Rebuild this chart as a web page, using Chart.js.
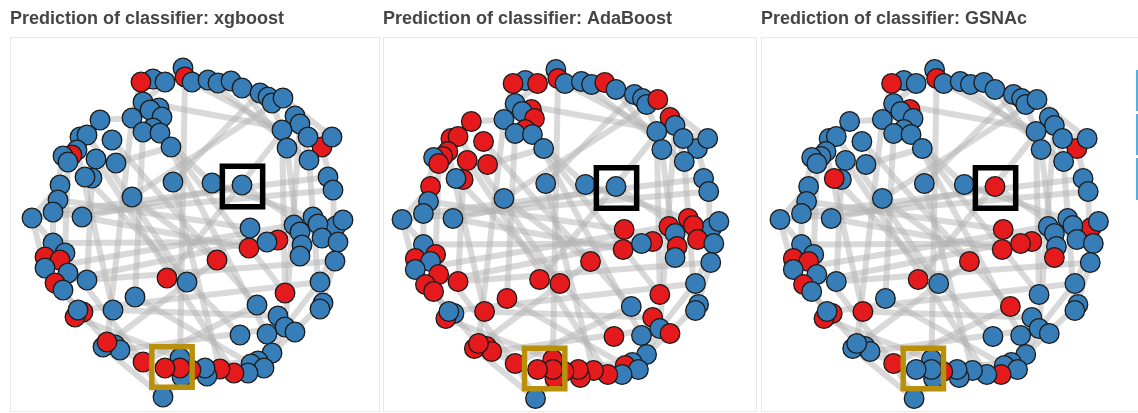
<!DOCTYPE html>
<html>
<head>
<meta charset="utf-8">
<script src="https://cdn.jsdelivr.net/npm/chart.js@4.4.1/dist/chart.umd.min.js"></script>
<style>
  html, body { margin: 0; padding: 0; background: #ffffff; }
  body { width: 1138px; height: 413px; position: relative; overflow: hidden; }
  .frame { position: absolute; top: 37px; height: 375px; border: 1px solid #e8e8e8; box-sizing: border-box; }
  canvas { position: absolute; top: 0; }
  .tab { position: absolute; left: 1136px; width: 2px; background: #5aaee0; }
</style>
</head>
<body>
<div class="frame" style="left:10px;width:370px"></div>
<div class="frame" style="left:383px;width:374px"></div>
<div class="frame" style="left:761px;width:380px"></div>
<div class="tab" style="top:70px;height:41px"></div>
<div class="tab" style="top:114px;height:41px"></div>
<div class="tab" style="top:158px;height:42px"></div>
<canvas id="c0"></canvas>
<canvas id="c1"></canvas>
<canvas id="c2"></canvas>
<script>
// Panel titles
const panelTitles = [
  'Prediction of classifier: xgboost',
  'Prediction of classifier: AdaBoost',
  'Prediction of classifier: GSNAc'
];

// Shared graph layout (node coordinates)
const nodeX = [153,141,165,183,185,192,208,218,231,242, 260,268,272,283,143,159,150,132,162,153,
               143,160,171,295,300,282,322,332,308,287, 309,328,333,100,80,87,112,77,72,63,
               68,96,116,92,85,60,58,53,32,82, 173,132,212,242,250,249,278,267,217,167,
               187,285,257,135,113,240,336,294,313,318, 300,343,322,338,302,300,335,320,323,320,
               278,285,295,267,272,258,251,264,248,234, 220,207,205,191,180,182,180,165,143,163,
               115,120,103,107,83,75,78,53,45,65, 60,45,68,87,55,63];
const nodeY = [79,82,82,68,77,82,80,83,81,88, 93,97,103,98,102,108,110,118,117,128,
               132,133,147,116,124,130,147,137,137,148, 160,177,190,120,137,135,140,150,155,156,
               162,159,163,178,177,185,200,212,218,217, 182,197,183,185,228,248,240,242,260,278,
               282,293,305,297,310,335,226,225,217,224, 232,220,238,242,245,256,261,282,303,309,
               316,327,332,334,353,361,364,368,373,373, 369,376,368,370,358,377,368,368,362,397,
               345,350,347,342,312,317,310,243,257,253, 260,268,273,280,283,290];

// Predicted class per node (0 = blue class, 1 = red class)
const predXgboost = [0,1,0,0,1,0,0,0,0,0, 0,0,0,0,0,0,0,0,0,0, 0,0,0,0,0,0,1,0,0,0, 0,0,0,0,0,0,0,0,1,0,
                     0,0,0,0,0,0,0,0,0,0, 0,0,0,0,0,1,1,0,1,1, 0,1,0,0,0,0,0,0,0,0, 0,0,0,0,0,0,0,0,0,0,
                     0,0,0,0,0,0,0,0,0,1, 1,0,0,1,0,0,1,1,1,0, 0,0,0,1,1,1,0,0,1,0, 1,0,0,0,1,0];
const predAdaBoost = [0,1,1,0,1,0,0,0,1,0, 0,0,0,1,0,1,0,0,1,1, 0,0,0,1,0,0,0,0,0,0, 0,0,0,1,1,1,1,1,1,0,
                      1,1,1,1,0,1,0,0,0,0, 0,0,0,0,1,1,1,0,1,1, 1,1,0,1,1,1,0,1,1,1, 0,0,1,0,1,0,0,0,0,0,
                      1,0,1,0,0,0,1,0,0,1, 1,1,1,1,1,1,1,1,1,0, 1,1,1,1,0,1,0,0,1,1, 0,0,1,1,1,1];
const predGSNAc = [0,1,0,0,1,0,0,0,0,0, 0,0,0,0,0,1,0,0,0,0, 0,0,0,0,0,0,1,0,0,0, 0,0,0,0,0,0,0,0,0,0,
                   0,0,0,0,1,0,0,0,0,0, 0,0,0,1,1,1,1,1,1,1, 0,0,1,0,1,0,1,0,0,0, 0,0,0,0,0,1,0,0,0,0,
                   0,0,0,0,0,0,0,0,1,0, 0,0,0,1,0,0,0,0,1,0, 0,0,0,0,1,1,0,0,1,0, 1,0,0,0,1,0];

// Graph edges (node index pairs)
const edgeFrom = [48,48,111,114,107,103,98,102,99,96, 84,87,81,79,77,76,32,30,27,12,
                  3,1,17,33,39,45,47,4,20,17, 22,16,44,36,41,48,49,47,113,106,
                  101,111,114,5,6,14,9,10,13, 23,29,25,30,24,
                  58,58,55,57,54,62,50,52, 53,35,37,40,42,43,19,
                  64,63,105];
const edgeTo   = [107,111,106,103,98,98,99,99,93,85, 78,81,77,76,73,32,26,24,13,25,
                  14,17,33,39,47,48,107,94,63,103, 61,83,65,62,89,32,53,31,76,77,
                  81,67,70,25,30,27,29,50,51, 59,75,61,79,81,
                  51,102,49,107,46,98,90,66, 72,60,64,109,22,113,52,
                  80,86,92];

// Highlighted nodes (square markers)
const highlightX = [242.5, 172];
const highlightY = [186.5, 367];
const highlightColor = ['#000000', '#b8900c'];

const predictions = [predXgboost, predAdaBoost, predGSNAc];
const classColors = ['#377eb8', '#e41a1c'];

// Panel placement: canvas left/width, and the layout's horizontal offset/scale in that panel
const panels = [
  { left: 10,  width: 368, offset: 0,     scale: 1.0,   dy: 0 },
  { left: 383, width: 373, offset: 369.4, scale: 1.019, dy: 1.5 },
  { left: 761, width: 377, offset: 747.2, scale: 1.024, dy: 1.5 }
];

const nodePoints = nodeX.map((x, i) => ({ x: x, y: nodeY[i] }));

panels.forEach((p, k) => {
  const canvas = document.getElementById('c' + k);
  canvas.width = p.width;
  canvas.height = 413;
  canvas.style.left = p.left + 'px';

  const edgeSets = edgeFrom.map((a, i) => {
    const b = edgeTo[i];
    return {
      type: 'line',
      data: [{ x: nodeX[a], y: nodeY[a] }, { x: nodeX[b], y: nodeY[b] }],
      showLine: true,
      borderColor: 'rgba(180,180,180,0.5)',
      borderWidth: 6,
      pointRadius: 0,
      fill: false,
      clip: false,
      order: 2
    };
  });

  const pred = predictions[k];
  new Chart(canvas, {
    type: 'scatter',
    data: {
      datasets: [
        {
          data: highlightX.map((x, i) => ({ x: x, y: highlightY[i] })),
          pointStyle: 'rect',
          pointRadius: 28.5,
          pointBackgroundColor: 'rgba(0,0,0,0)',
          pointBorderColor: highlightColor,
          pointBorderWidth: 5.5,
          clip: false,
          order: 0
        },
        {
          data: nodePoints,
          pointRadius: 9.8,
          pointBackgroundColor: pred.map(c => classColors[c]),
          pointBorderColor: '#1b1b1b',
          pointBorderWidth: 1.3,
          clip: false,
          order: 1
        },
        ...edgeSets
      ]
    },
    options: {
      responsive: false,
      animation: false,
      events: [],
      layout: { padding: 0, autoPadding: false },
      plugins: {
        legend: { display: false },
        tooltip: { enabled: false },
        title: {
          display: true,
          text: panelTitles[k],
          align: 'start',
          color: '#454545',
          font: { family: '"Liberation Sans", Arial, Helvetica, sans-serif', size: 18, weight: 'bold', lineHeight: 1.2 },
          padding: { top: 8.6, bottom: 6.8 }
        }
      },
      scales: {
        x: {
          type: 'linear', display: false,
          min: (p.left - p.offset) / p.scale,
          max: (p.left + p.width - p.offset) / p.scale
        },
        y: {
          type: 'linear', display: false, reverse: true,
          min: 37 - p.dy,
          max: 413 - p.dy
        }
      }
    }
  });
});
</script>
</body>
</html>
